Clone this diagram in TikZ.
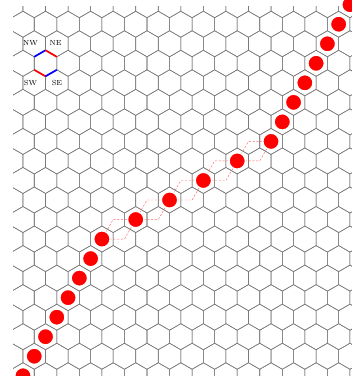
\documentclass[tikz,border=0pt]{standalone}
\usepackage{xcolor}
\definecolor{CombGray}{HTML}{7A7A7A}
\definecolor{StoneRed}{HTML}{FF0000}
\definecolor{EdgeBlue}{HTML}{0000FF}
\usepackage{tikz}
\usetikzlibrary{calc}
\tikzset{
  hexline/.style={draw=CombGray,line width=0.55pt},
  stone/.style={circle,fill=StoneRed,draw=white,line width=1.4pt,minimum size=16.4pt,inner sep=0pt},
  route/.style={draw=StoneRed!60,line width=0.45pt,dash pattern=on 2.2pt off 1.6pt},
  edgered/.style={draw=StoneRed,line width=1.7pt},
  edgeblue/.style={draw=EdgeBlue,line width=1.7pt},
  dirlabel/.style={font=\fontsize{7.4}{8}\selectfont,inner sep=0pt}
}
\newcommand{\hexside}{13.02}

\begin{document}
\begin{tikzpicture}[x=1pt,y=-1pt]
  \useasboundingbox (0,0) rectangle (352,376);
  % honeycomb
  \begin{scope}
    \clip (13,6) rectangle (352,376);
    \foreach \r in {-1,...,20}{
      \foreach \c in {-1,...,16}{
        \pgfmathsetmacro\hx{11.7+(2*\c+mod(\r,2))*11.275}
        \pgfmathsetmacro\hy{4.7+\r*19.53}
        \draw[hexline,shift={(\hx,\hy)}] (30:\hexside) -- (90:\hexside) -- (150:\hexside)
          -- (210:\hexside) -- (270:\hexside) -- (330:\hexside) -- cycle;
      }
    }
  \end{scope}
  % the four slanted sides of one cell (y points down here)
  \coordinate (mid) at (45.5,63.3);
  \draw[edgeblue] ($(mid)+(210:\hexside)$) -- ($(mid)+(270:\hexside)$);
  \draw[edgered] ($(mid)+(270:\hexside)$) -- ($(mid)+(330:\hexside)$);
  \draw[edgered] ($(mid)+(150:\hexside)$) -- ($(mid)+(90:\hexside)$);
  \draw[edgeblue] ($(mid)+(90:\hexside)$) -- ($(mid)+(30:\hexside)$);
  \node[dirlabel] (nw) at (30.5,43.3) {NW};
  \node[dirlabel] (ne) at (55.5,43.3) {NE};
  \node[dirlabel] (sw) at (30.5,83) {SW};
  \node[dirlabel] (se) at (57,83) {SE};
  % stone positions
  \foreach \i/\q/\r in {1/1/19,2/2/18,3/3/17,4/4/16,5/5/15,6/6/14,7/7/13,8/8/12,
      9/11/11,10/14/10,11/17/9,12/20/8,13/23/7,
      14/24/6,15/25/5,16/26/4,17/27/3,18/28/2,19/29/1,20/30/0}{
    \coordinate (p\i) at ({11.7+\q*11.275},{4.7+\r*19.53});
  }
  % two detours between neighbouring stones
  \foreach \a/\b/\q/\r in {8/9/8/12,9/10/11/11,10/11/14/10,11/12/17/9,12/13/20/8}{
    \coordinate (up\a) at ({11.7+(\q+1)*11.275},{4.7+(\r-1)*19.53});
    \coordinate (lo\a) at ({11.7+(\q+2)*11.275},{4.7+\r*19.53});
    \draw[route] (p\a) -- (up\a) -- (p\b);
    \draw[route] (p\a) -- (lo\a) -- (p\b);
  }
  \foreach \i in {1,...,20}{
    \node[stone] (s\i) at (p\i) {};
  }
\end{tikzpicture}
\end{document}
